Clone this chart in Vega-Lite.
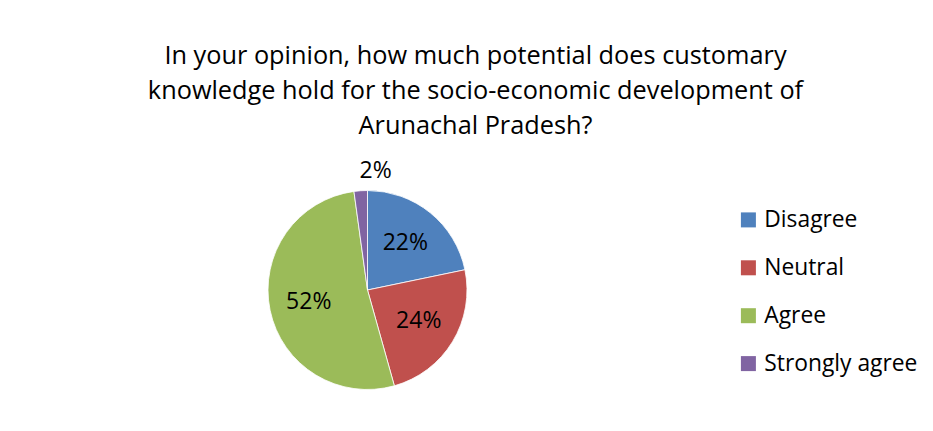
{
  "$schema": "https://vega.github.io/schema/vega-lite/v6.json",
  "autosize": "none",
  "width": 735,
  "height": 280,
  "padding": {"left": 0, "top": 150, "right": 198, "bottom": 1},
  "background": "white",
  "config": {"view": {"stroke": null}, "font": "Open Sans"},
  "title": {
    "text": ["In your opinion, how much potential does customary", "knowledge hold for the socio-economic development of", "Arunachal Pradesh?"],
    "anchor": "middle",
    "frame": "group",
    "dx": 108,
    "limit": 0,
    "fontSize": 25.3,
    "fontWeight": "normal",
    "font": "Open Sans",
    "color": "#000000",
    "lineHeight": 35,
    "offset": 11
  },
  "data": {
    "values": [
      {"response": "Disagree", "count": 10, "rank": 1, "label": "22%"},
      {"response": "Neutral", "count": 11, "rank": 2, "label": "24%"},
      {"response": "Agree", "count": 24, "rank": 3, "label": "52%"},
      {"response": "Strongly agree", "count": 1, "rank": 4, "label": "2%"}
    ]
  },
  "encoding": {
    "theta": {"field": "count", "type": "quantitative", "stack": true},
    "order": {"field": "rank", "type": "quantitative"},
    "color": {
      "field": "response",
      "type": "nominal",
      "sort": ["Disagree", "Neutral", "Agree", "Strongly agree"],
      "scale": {"domain": ["Disagree", "Neutral", "Agree", "Strongly agree"], "range": ["#4F81BD", "#C0504D", "#9BBB59", "#8064A2"]},
      "legend": {
        "title": null,
        "orient": "none",
        "legendX": 737,
        "legendY": 58.5,
        "symbolType": "square",
        "symbolSize": 225,
        "symbolStrokeWidth": 0,
        "symbolOpacity": 1,
        "labelFontSize": 22.8,
        "labelFont": "Open Sans",
        "labelColor": "#000000",
        "labelOffset": 4.5,
        "rowPadding": 23.9,
        "padding": 0,
        "labelLimit": 300
      }
    }
  },
  "layer": [
    {"mark": {"type": "arc", "outerRadius": 99.5, "stroke": "#ffffff", "strokeWidth": 0.8}},
    {
      "transform": [{"filter": "datum.count > 2"}],
      "mark": {"type": "text", "radius": 60, "fontSize": 23, "font": "Open Sans", "color": "#000000", "align": "center", "baseline": "middle"},
      "encoding": {"text": {"field": "label"}, "color": {"value": "#000000"}}
    },
    {
      "transform": [{"filter": "datum.count <= 2"}],
      "mark": {"type": "text", "radius": 119, "fontSize": 23, "font": "Open Sans", "color": "#000000", "align": "center", "baseline": "middle"},
      "encoding": {"text": {"field": "label"}, "color": {"value": "#000000"}}
    }
  ]
}
